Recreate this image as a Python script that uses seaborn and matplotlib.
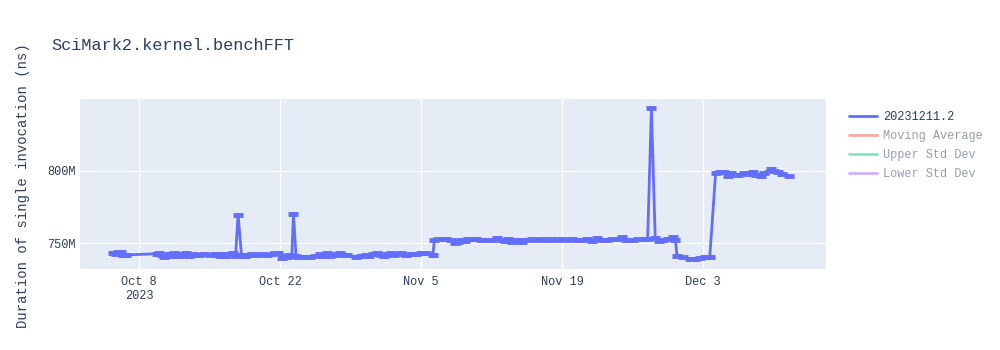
import matplotlib
matplotlib.use("Agg")
import matplotlib.pyplot as plt
import matplotlib.dates as mdates
from matplotlib.lines import Line2D
from matplotlib.ticker import FixedLocator, FuncFormatter
import seaborn as sns
import pandas as pd

# ---- data ----
timestamps = [
    "2023-10-05 10:00", "2023-10-05 16:00", "2023-10-05 22:00", "2023-10-06 04:00", "2023-10-06 10:00",
    "2023-10-06 18:00", "2023-10-09 18:00", "2023-10-10 00:00", "2023-10-10 06:00", "2023-10-10 12:00",
    "2023-10-10 18:00", "2023-10-11 00:00", "2023-10-11 06:00", "2023-10-11 12:00", "2023-10-11 18:00",
    "2023-10-12 00:00", "2023-10-12 08:00", "2023-10-12 16:00", "2023-10-13 00:00", "2023-10-13 08:00",
    "2023-10-13 16:00", "2023-10-14 00:00", "2023-10-14 12:00", "2023-10-15 00:00", "2023-10-15 12:00",
    "2023-10-16 00:00", "2023-10-16 08:00", "2023-10-16 16:00", "2023-10-17 00:00", "2023-10-17 08:00",
    "2023-10-17 14:00", "2023-10-17 20:00", "2023-10-18 04:00", "2023-10-18 12:00", "2023-10-18 20:00",
    "2023-10-19 06:00", "2023-10-19 16:00", "2023-10-20 04:00", "2023-10-20 16:00", "2023-10-21 04:00",
    "2023-10-21 12:00", "2023-10-21 20:00", "2023-10-22 04:00", "2023-10-22 10:00", "2023-10-22 16:00",
    "2023-10-22 22:00", "2023-10-23 04:00", "2023-10-23 08:00", "2023-10-23 14:00", "2023-10-23 20:00",
    "2023-10-24 08:00", "2023-10-25 00:00", "2023-10-25 12:00", "2023-10-26 00:00", "2023-10-26 08:00",
    "2023-10-26 16:00", "2023-10-27 00:00", "2023-10-27 08:00", "2023-10-27 16:00", "2023-10-28 00:00",
    "2023-10-28 08:00", "2023-10-28 16:00", "2023-10-29 12:00", "2023-10-30 00:00", "2023-10-30 12:00",
    "2023-10-30 20:00", "2023-10-31 06:00", "2023-10-31 16:00", "2023-11-01 00:00", "2023-11-01 08:00",
    "2023-11-01 16:00", "2023-11-02 00:00", "2023-11-02 08:00", "2023-11-02 16:00", "2023-11-03 00:00",
    "2023-11-03 12:00", "2023-11-04 00:00", "2023-11-04 12:00", "2023-11-05 00:00", "2023-11-05 12:00",
    "2023-11-06 04:00", "2023-11-06 08:00", "2023-11-06 16:00", "2023-11-07 00:00", "2023-11-07 12:00",
    "2023-11-08 00:00", "2023-11-08 08:00", "2023-11-08 16:00", "2023-11-09 00:00", "2023-11-09 08:00",
    "2023-11-09 16:00", "2023-11-10 00:00", "2023-11-10 12:00", "2023-11-11 00:00", "2023-11-11 12:00",
    "2023-11-12 00:00", "2023-11-12 12:00", "2023-11-13 00:00", "2023-11-13 08:00", "2023-11-13 16:00",
    "2023-11-14 00:00", "2023-11-14 08:00", "2023-11-14 16:00", "2023-11-15 00:00", "2023-11-15 12:00",
    "2023-11-16 00:00", "2023-11-16 12:00", "2023-11-17 00:00", "2023-11-17 12:00", "2023-11-18 00:00",
    "2023-11-18 12:00", "2023-11-19 00:00", "2023-11-19 12:00", "2023-11-20 00:00", "2023-11-20 12:00",
    "2023-11-21 00:00", "2023-11-21 12:00", "2023-11-22 00:00", "2023-11-22 12:00", "2023-11-23 00:00",
    "2023-11-23 12:00", "2023-11-24 00:00", "2023-11-24 12:00", "2023-11-25 00:00", "2023-11-25 08:00",
    "2023-11-25 16:00", "2023-11-26 00:00", "2023-11-26 12:00", "2023-11-27 00:00", "2023-11-27 12:00",
    "2023-11-27 21:00", "2023-11-28 06:00", "2023-11-28 16:00", "2023-11-29 00:00", "2023-11-29 12:00",
    "2023-11-30 00:00", "2023-11-30 06:00", "2023-11-30 10:00", "2023-12-01 00:00", "2023-12-01 16:00",
    "2023-12-02 06:00", "2023-12-02 16:00", "2023-12-03 05:00", "2023-12-03 16:00", "2023-12-04 06:00",
    "2023-12-04 16:00", "2023-12-05 02:00", "2023-12-05 12:00", "2023-12-05 19:00", "2023-12-06 12:00",
    "2023-12-07 02:00", "2023-12-07 12:00", "2023-12-07 22:00", "2023-12-08 07:00", "2023-12-08 17:00",
    "2023-12-09 02:00", "2023-12-09 17:00", "2023-12-10 00:00", "2023-12-10 10:00", "2023-12-10 19:00",
    "2023-12-11 12:00",
]
durations_ms = [
    743.2, 742.6, 743.8, 744.0, 741.8,
    742.0, 742.8, 743.5, 742.0, 740.5,
    741.8, 742.9, 741.0, 743.0, 742.5,
    741.5, 742.0, 743.0, 741.3, 742.4,
    741.7, 742.2, 742.6, 742.0, 742.5,
    741.5, 742.8, 741.0, 742.3, 743.1,
    741.2, 769.8, 742.0, 741.0, 742.2,
    742.8, 742.0, 742.3, 742.0, 742.5,
    743.5, 743.0, 740.0, 741.5, 740.5,
    742.0, 741.0, 770.2, 741.5, 740.8,
    740.8, 740.8, 741.2, 742.5, 741.0,
    743.0, 741.5, 742.2, 742.8, 743.2,
    741.8, 742.0, 740.8, 741.5, 742.0,
    741.3, 742.5, 743.2, 742.0, 741.5,
    742.6, 743.0, 741.8, 742.4, 743.5,
    742.2, 742.8, 742.5, 743.0, 743.6,
    741.8, 752.5, 753.0, 753.2, 752.8,
    752.0, 750.5, 751.0, 752.6, 751.5,
    753.0, 752.8, 753.2, 752.5, 752.6,
    752.4, 753.5, 752.0, 751.5, 752.8,
    751.2, 752.5, 752.0, 750.8, 752.6,
    752.8, 752.2, 753.0, 752.5, 752.8,
    752.6, 753.0, 752.5, 753.2, 752.0,
    752.5, 752.8, 751.8, 753.5, 752.0,
    752.3, 752.8, 753.2, 754.5, 752.0,
    752.5, 752.2, 753.0, 752.8, 753.0,
    842.9, 753.5, 751.4, 752.5, 753.0,
    754.5, 752.5, 741.1, 740.4, 739.0,
    739.0, 739.7, 740.4, 740.4, 798.6,
    799.3, 799.3, 796.6, 798.6, 797.3,
    798.6, 797.9, 799.3, 797.3, 796.6,
    798.6, 801.4, 800.0, 799.3, 797.9,
    796.6,
]
series_name = "20231211.2"
legend_labels = ["20231211.2", "Moving Average", "Upper Std Dev", "Lower Std Dev"]
legend_colors = ["#636efa", "#EF553B", "#00cc96", "#ab63fa"]
x_tick_dates = ["2023-10-08", "2023-10-22", "2023-11-05", "2023-11-19", "2023-12-03"]
x_tick_labels = ["Oct 8\n2023", "Oct 22", "Nov 5", "Nov 19", "Dec 3"]
y_ticks = [750e6, 800e6]

df = pd.DataFrame({
    "time": pd.to_datetime(timestamps),
    "duration": [v * 1e6 for v in durations_ms],
})

# ---- style ----
sns.set_theme(style="darkgrid")
plt.rcParams["font.family"] = ["Liberation Mono", "DejaVu Sans Mono"]
text_color = "#2a3f5f"
bg = "#E5ECF6"

fig = plt.figure(figsize=(10, 3.5), dpi=100)
fig.patch.set_facecolor("white")
ax = fig.add_axes([0.080, 1 - 269 / 350, 0.746, 170 / 350])
ax.set_facecolor(bg)

sns.lineplot(data=df, x="time", y="duration", ax=ax, color="#636efa",
             linewidth=2, estimator=None, sort=False,
             marker="_", markersize=7, markeredgewidth=3.5,
             markeredgecolor="#636efa", legend=False)

ax.set_xlim(pd.Timestamp("2023-10-02 03:20"), pd.Timestamp("2023-12-15 05:00"))
ax.set_ylim(732.3e6, 849.3e6)

ax.xaxis.set_major_locator(FixedLocator(mdates.date2num(pd.to_datetime(x_tick_dates))))
ax.set_xticklabels(x_tick_labels, ha="center", linespacing=1.25)
ax.yaxis.set_major_locator(FixedLocator(y_ticks))
ax.yaxis.set_major_formatter(FuncFormatter(lambda v, p: f"{v/1e6:.0f}M"))

ax.grid(True, color="white", linewidth=1)
ax.tick_params(axis="both", length=0, labelsize=8.6, labelcolor=text_color)
ax.tick_params(axis="x", pad=5)
ax.tick_params(axis="y", pad=3)
for s in ax.spines.values():
    s.set_visible(False)
ax.set_xlabel("")
ax.set_ylabel("")

fig.text(0.051, 1 - 46 / 350, "SciMark2.kernel.benchFFT", fontsize=12.2,
         color=text_color, ha="left", va="center")
fig.text(0.023, 1 - 186 / 350, "Duration of single invocation (ns)", fontsize=10,
         color=text_color, rotation=90, ha="center", va="center")

handles = []
for i, (lab, col) in enumerate(zip(legend_labels, legend_colors)):
    handles.append(Line2D([0], [0], color=col, linewidth=2, alpha=1.0 if i == 0 else 0.5))
leg = fig.legend(handles, legend_labels, loc="upper left",
                 bbox_to_anchor=(0.844, 1 - 106 / 350), frameon=False,
                 fontsize=8.6, handlelength=2.4, handletextpad=0.45,
                 labelspacing=0.6, borderaxespad=0)
for i, t in enumerate(leg.get_texts()):
    t.set_color(text_color)
    if i > 0:
        t.set_alpha(0.5)

fig.savefig("out.png", dpi=100)
